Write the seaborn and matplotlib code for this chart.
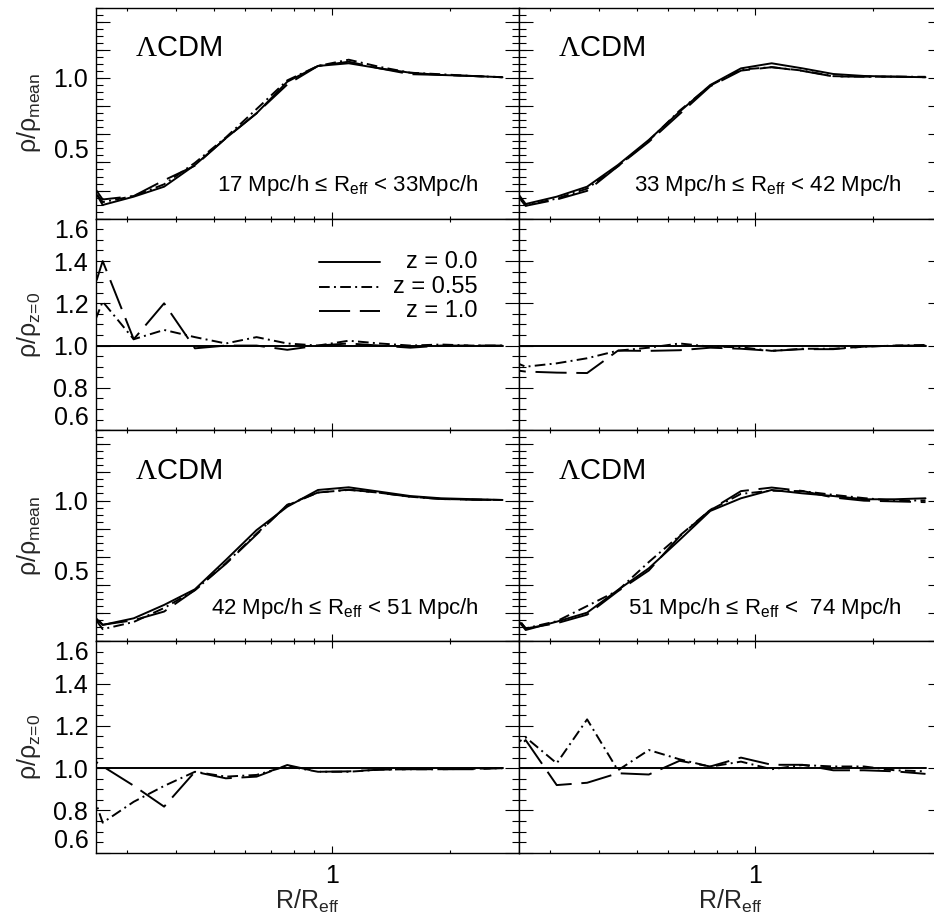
import numpy as np
import pandas as pd
import matplotlib
matplotlib.use("Agg")
import matplotlib.pyplot as plt
import seaborn as sns
from matplotlib.ticker import FixedLocator, NullFormatter, FuncFormatter, FixedFormatter

# ---------------------------------------------------------------- data
# radial bins in units of R/R_eff
r_bins = [0.217, 0.260, 0.312, 0.373, 0.447, 0.536, 0.642, 0.769,
          0.921, 1.103, 1.322, 1.584, 1.897, 2.273, 2.723]

redshifts = ["z = 0.0", "z = 0.55", "z = 1.0"]

bin_labels = [
    "17 Mpc/h \u2264 R$_{eff}$ < 33Mpc/h",
    "33 Mpc/h \u2264 R$_{eff}$ < 42 Mpc/h",
    "42 Mpc/h \u2264 R$_{eff}$ < 51 Mpc/h",
    "51 Mpc/h \u2264 R$_{eff}$ <  74 Mpc/h",
]

# stacked void density profiles at z = 0 (rho / rho_mean)
rho_z0_bin1 = [0.48, 0.098, 0.157, 0.228, 0.382, 0.572, 0.749, 0.973,
               1.085, 1.104, 1.068, 1.037, 1.021, 1.014, 1.005]
rho_z0_bin2 = [0.40, 0.105, 0.157, 0.228, 0.382, 0.560, 0.760, 0.950,
               1.068, 1.104, 1.068, 1.028, 1.014, 1.009, 1.005]
rho_z0_bin3 = [0.334, 0.117, 0.164, 0.259, 0.370, 0.578, 0.790, 0.956,
               1.075, 1.094, 1.063, 1.032, 1.016, 1.010, 1.004]
rho_z0_bin4 = [0.353, 0.081, 0.140, 0.204, 0.365, 0.519, 0.720, 0.926,
               1.016, 1.075, 1.051, 1.032, 1.009, 1.009, 1.016]

# profiles at z = 0.55 relative to z = 0
ratio_z055_bin1 = [0.845, 1.208, 1.030, 1.074, 1.040, 1.010, 1.040, 1.010,
                   1.000, 1.023, 1.010, 1.000, 1.005, 1.000, 1.000]
ratio_z055_bin2 = [0.960, 0.900, 0.916, 0.940, 0.976, 0.990, 1.010, 0.995,
                   0.992, 0.975, 0.985, 0.985, 0.995, 1.000, 1.003]
ratio_z055_bin3 = [1.166, 0.742, 0.841, 0.916, 0.983, 0.960, 0.968, 1.010,
                   0.983, 0.983, 0.993, 0.995, 0.995, 0.997, 1.000]
ratio_z055_bin4 = [1.050, 1.146, 1.023, 1.231, 0.990, 1.086, 1.042, 1.007,
                   1.031, 0.995, 1.015, 1.008, 1.008, 0.990, 0.985]

# profiles at z = 1.0 relative to z = 0
ratio_z1_bin1 = [0.940, 1.400, 1.030, 1.200, 0.987, 1.000, 1.000, 0.980,
                 1.000, 1.010, 1.000, 0.990, 1.000, 1.000, 1.000]
ratio_z1_bin2 = [0.895, 0.877, 0.872, 0.870, 0.976, 0.975, 0.978, 0.990,
                 0.985, 0.975, 0.983, 0.983, 0.995, 1.000, 1.000]
ratio_z1_bin3 = [1.105, 1.009, 0.917, 0.818, 0.983, 0.952, 0.960, 1.015,
                 0.983, 0.985, 0.993, 0.995, 0.995, 0.995, 1.000]
ratio_z1_bin4 = [0.990, 1.133, 0.920, 0.931, 0.976, 0.970, 1.035, 1.008,
                 1.050, 1.016, 1.016, 0.990, 0.990, 0.985, 0.973]

rho_z0 = [rho_z0_bin1, rho_z0_bin2, rho_z0_bin3, rho_z0_bin4]
ratio_z055 = [ratio_z055_bin1, ratio_z055_bin2, ratio_z055_bin3, ratio_z055_bin4]
ratio_z1 = [ratio_z1_bin1, ratio_z1_bin2, ratio_z1_bin3, ratio_z1_bin4]

# ---------------------------------------------------------------- style
sns.set_style("ticks")
plt.rcParams.update({
    "mathtext.fontset": "custom",
    "mathtext.rm": "Liberation Serif",
    "mathtext.default": "regular",
    "axes.linewidth": 1.0,
    "axes.edgecolor": "black",
    "text.color": "black",
    "xtick.color": "black",
    "ytick.color": "black",
})
plt.rcParams["font.family"] = ["Liberation Sans", "DejaVu Sans"]

LW = 1.4
TICK_FS = 18
dash_map = {"z = 0.0": "", "z = 0.55": (5.5, 2.2, 1.0, 2.2), "z = 1.0": (16, 5)}

FIG_W, FIG_H = 934, 916
fig = plt.figure(figsize=(FIG_W / 100, FIG_H / 100), dpi=100)

col_left = [96, 519]
col_width = 423
row_tops = [7.5, 218.8, 430.1, 641.4]
row_h = 211.3


def make_axes(col, row):
    left = col_left[col] / FIG_W
    bottom = 1 - (row_tops[row] + row_h) / FIG_H
    return fig.add_axes([left, bottom, col_width / FIG_W, row_h / FIG_H])


def long_frame(values_by_z):
    frames = []
    for z, vals in zip(redshifts, values_by_z):
        frames.append(pd.DataFrame({"r": r_bins, "val": vals, "z": z}))
    return pd.concat(frames, ignore_index=True)


def style_x(ax, show_labels):
    ax.set_xscale("log")
    ax.set_xlim(0.25, 3.0)
    ax.xaxis.set_major_locator(FixedLocator([1.0]))
    ax.xaxis.set_minor_locator(FixedLocator([0.3, 0.4, 0.5, 0.6, 0.7, 0.8, 0.9, 2.0, 3.0]))
    ax.xaxis.set_minor_formatter(NullFormatter())
    if show_labels:
        ax.xaxis.set_major_formatter(FixedFormatter(["1"]))
    else:
        ax.xaxis.set_major_formatter(NullFormatter())
    ax.tick_params(axis="x", which="major", length=5, width=0.8, pad=8)
    ax.tick_params(axis="x", which="minor", length=2.5, width=0.8)


def common_ticks(ax):
    ax.tick_params(which="both", direction="in", top=True, right=True,
                   labelsize=TICK_FS)
    ax.tick_params(axis="y", which="major", length=10, width=0.8, pad=5.5)
    ax.tick_params(axis="y", which="minor", length=5, width=0.8, pad=5.5)


def main_minor_fmt(v, pos):
    key = round(v, 2)
    return {0.5: "0.5", 1.0: "1.0"}.get(key, "")


for i in range(4):
    col = i % 2
    row_main = 2 * (i // 2)
    row_ratio = row_main + 1
    bottom_row = (i // 2) == 1

    rho0 = np.asarray(rho_z0[i])
    r055 = np.asarray(ratio_z055[i])
    r1 = np.asarray(ratio_z1[i])

    # ---- density profile panel
    ax = make_axes(col, row_main)
    df_main = long_frame([rho0, rho0 * r055, rho0 * r1])
    sns.lineplot(data=df_main, x="r", y="val", style="z", dashes=dash_map,
                 color="black", lw=LW, estimator=None, legend=False, ax=ax)
    common_ticks(ax)
    style_x(ax, False)
    ax.set_ylim(0.0, 1.5)
    ax.yaxis.set_major_locator(FixedLocator(np.arange(0.0, 1.41, 0.2)))
    ax.yaxis.set_major_formatter(NullFormatter())
    ax.yaxis.set_minor_locator(FixedLocator(np.arange(0.0, 1.501, 0.05)))
    ax.yaxis.remove_overlapping_locs = False
    ax.set_xlabel("")
    if col == 0:
        ax.yaxis.set_minor_formatter(FuncFormatter(main_minor_fmt))
        ax.set_ylabel("\u03c1/\u03c1$_{mean}$", fontsize=TICK_FS)
        ax.yaxis.set_label_coords(-0.125, 0.5)
    else:
        ax.yaxis.set_minor_formatter(NullFormatter())
        ax.tick_params(axis="y", which="both", labelleft=False)
        ax.set_ylabel("")
    ax.text(0.092, 0.770, r"$\mathrm{\Lambda}$CDM", transform=ax.transAxes,
            fontsize=21, ha="left", va="baseline")
    ax.text(0.905, 0.13, bin_labels[i], transform=ax.transAxes,
            fontsize=16, ha="right", va="baseline")

    # ---- ratio panel
    axr = make_axes(col, row_ratio)
    df_ratio = long_frame([rho0 / rho0, r055, r1])
    sns.lineplot(data=df_ratio, x="r", y="val", style="z", dashes=dash_map,
                 color="black", lw=LW, estimator=None, legend=False, ax=axr)
    common_ticks(axr)
    style_x(axr, bottom_row)
    axr.set_ylim(0.6, 1.6)
    axr.yaxis.set_major_locator(FixedLocator([0.6, 0.8, 1.0, 1.2, 1.4, 1.6]))
    axr.yaxis.set_minor_locator(FixedLocator(np.arange(0.6, 1.601, 0.05)))
    axr.yaxis.set_minor_formatter(NullFormatter())
    if col == 0:
        axr.yaxis.set_major_formatter(FixedFormatter(["0.6", "0.8", "1.0", "1.2", "1.4", "1.6"]))
        ticks = axr.yaxis.get_major_ticks()
        ticks[0].label1.set_verticalalignment("bottom")
        ticks[-1].label1.set_verticalalignment("top")
        axr.set_ylabel(r"\u03c1/\u03c1$_{z\!=\!0}$".replace("\\u03c1", "\u03c1"),
                       fontsize=TICK_FS)
        axr.yaxis.set_label_coords(-0.125, 0.5)
    else:
        axr.yaxis.set_major_formatter(NullFormatter())
        axr.tick_params(axis="y", which="both", labelleft=False)
        axr.set_ylabel("")
    if bottom_row:
        axr.set_xlabel("R/R$_{eff}$", fontsize=TICK_FS)
        axr.xaxis.set_label_coords(0.5, -0.165)
    else:
        axr.set_xlabel("")

    # ---- legend keys in the first ratio panel
    if i == 0:
        key_y = [0.797, 0.679, 0.565]
        for z, y in zip(redshifts, key_y):
            d = dash_map[z]
            kw = {"linestyle": "-"} if d == "" else {"dashes": d}
            axr.plot([0.527, 0.671], [y, y], transform=axr.transAxes,
                     color="black", lw=LW, **kw)
            axr.text(0.903, y, z, transform=axr.transAxes, fontsize=17,
                     ha="right", va="center")

fig.savefig("out.png", dpi=100)
